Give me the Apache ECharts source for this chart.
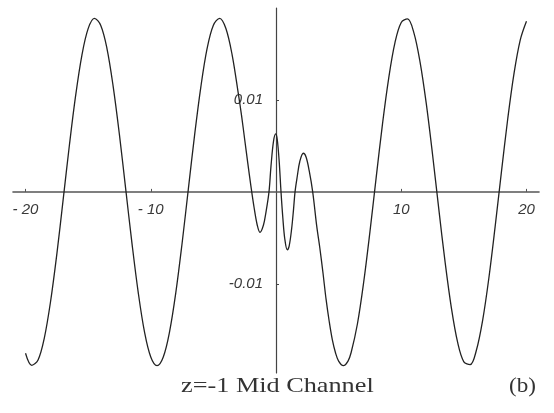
<!DOCTYPE html>
<html>
<head>
<meta charset="utf-8">
<script src="https://cdn.jsdelivr.net/npm/echarts@6/dist/echarts.min.js"></script>
<style>
  html, body { margin: 0; padding: 0; background: #ffffff; }
  #chart { width: 554px; height: 413px; }
</style>
</head>
<body>
<div id="chart"></div>
<script>
// Sample positions along the channel
var xValues = [
  -20, -19.5, -19, -18.5, -18, -17.5, -17, -16.5, -16, -15.5, -15, -14.5, -14, -13.5,
  -13, -12.5, -12, -11.5, -11, -10.5, -10, -9.5, -9, -8.5, -8, -7.5, -7, -6.5, -6,
  -5.5, -5, -4.5, -4, -3.5, -3, -2.75, -2.5, -2.25, -2, -1.75, -1.5, -1.28, -1.0,
  -0.8, -0.56, -0.4, -0.2, -0.02, 0.1, 0.25, 0.4, 0.55, 0.7, 0.9, 1.05, 1.25, 1.4,
  1.52, 1.7, 1.9, 2.18, 2.4, 2.65, 2.93, 3.25, 3.5, 3.75, 4.0, 4.25, 4.5, 4.75, 5.0,
  5.38, 5.75, 6.0, 6.5, 7.0, 7.5, 8.0, 8.5, 9.0, 9.5, 10.0, 10.5, 11.0, 11.5, 12.0,
  12.5, 13.0, 13.5, 14.0, 14.5, 15.0, 15.5, 16.0, 16.5, 17.0, 17.5, 18.0, 18.5, 19.0,
  19.5, 20.0
];

// Profile values at z = -1, mid channel
var yValues = [
  -0.01755, -0.01886, -0.01829, -0.0159, -0.01192, -0.00677, -0.0009, 0.00504, 0.01046,
  0.01486, 0.01776, 0.01888, 0.01813, 0.01562, 0.01145, 0.0062, 0.0003, -0.0056,
  -0.01095, -0.01523, -0.01796, -0.0189, -0.01796, -0.01522, -0.01096, -0.00561, 0.0003,
  0.00618, 0.01143, 0.0156, 0.01813, 0.01888, 0.01777, 0.01488, 0.0106, 0.0083, 0.0057,
  0.0031, 0.0006, -0.0017, -0.0036, -0.0044, -0.0036, -0.0022, 0, 0.0028, 0.0055, 0.0063,
  0.0057, 0.0034, 0, -0.0029, -0.0051, -0.0063, -0.0059, -0.004, -0.0019, 0, 0.0017,
  0.0033, 0.0042, 0.0038, 0.0023, 0, -0.0037, -0.0061, -0.0088, -0.0117, -0.0141,
  -0.0161, -0.0175, -0.0184, -0.0189, -0.0184, -0.01747, -0.01437, -0.00983, -0.00435,
  0.00158, 0.00735, 0.01238, 0.01624, 0.01843, 0.01882, 0.01735, 0.01414, 0.00959,
  0.00407, -0.00188, -0.00762, -0.01259, -0.01635, -0.01849, -0.01879, -0.01723,
  -0.01397, -0.00934, -0.00376, 0.00217, 0.0079, 0.01283, 0.01651, 0.01856
];

var xTicks = [-20, -10, 10, 20];
var xTickLabels = ['- 20', '- 10', '10', '20'];
var yTicks = [-0.01, 0.01];
var yTickLabels = ['-0.01', '0.01'];

var captionText = 'z=-1 Mid Channel';
var panelText = '(b)';

var points = xValues.map(function (x, i) { return [x, yValues[i]]; });

// Plot area and axis ranges
var gridLeft = 13, gridRight = 15, gridTop = 8, gridHeight = 365;
var chartWidth = 554;
var xMin = -21, xMax = 21;
var yMin = -0.0197, yMax = 0.02;
var gridWidth = chartWidth - gridLeft - gridRight;

// Both axes cross at the origin: shift them from the grid edges to zero
var xAxisOffset = -gridHeight * (0 - yMin) / (yMax - yMin);
var yAxisOffset = -gridWidth * (0 - xMin) / (xMax - xMin);

function labelFor(values, labels) {
  return function (v) {
    for (var i = 0; i < values.length; i++) {
      if (Math.abs(values[i] - v) < 1e-9) return labels[i];
    }
    return '';
  };
}

var tickFont = {
  fontFamily: 'Liberation Sans',
  fontStyle: 'italic',
  fontSize: 15,
  color: '#3a3a3a'
};

var chart = echarts.init(document.getElementById('chart'), null, { renderer: 'canvas' });
chart.setOption({
  animation: false,
  backgroundColor: '#ffffff',
  grid: { left: gridLeft, right: gridRight, top: gridTop, height: gridHeight,
          containLabel: false, outerBoundsMode: 'none' },
  xAxis: {
    type: 'value',
    min: xMin,
    max: xMax,
    position: 'bottom',
    offset: xAxisOffset,
    splitLine: { show: false },
    axisLine: { show: true, onZero: false, lineStyle: { color: '#555555', width: 1.6 } },
    axisTick: { show: true, inside: true, length: 3, customValues: xTicks,
                lineStyle: { color: '#555555', width: 1 } },
    axisLabel: Object.assign({ show: true, margin: 10, customValues: xTicks,
                formatter: labelFor(xTicks, xTickLabels) }, tickFont)
  },
  yAxis: {
    type: 'value',
    min: yMin,
    max: yMax,
    position: 'left',
    offset: yAxisOffset,
    splitLine: { show: false },
    axisLine: { show: true, onZero: false, lineStyle: { color: '#444444', width: 1.2 } },
    axisTick: { show: true, inside: true, length: 3, customValues: yTicks,
                lineStyle: { color: '#444444', width: 1 } },
    axisLabel: Object.assign({ show: true, margin: 13, customValues: yTicks,
                formatter: labelFor(yTicks, yTickLabels) }, tickFont)
  },
  series: [{
    type: 'line',
    data: points,
    smooth: 0.35,
    showSymbol: false,
    lineStyle: { color: '#222222', width: 1.3 },
    z: 3
  }],
  graphic: [
    {
      type: 'text',
      left: 181,
      top: 376,
      scaleX: 1.25,
      style: {
        text: captionText,
        font: '21px "Liberation Serif"',
        fill: '#333333'
      }
    },
    {
      type: 'text',
      left: 509,
      top: 376,
      scaleX: 1.1,
      style: {
        text: panelText,
        font: '21px "Liberation Serif"',
        fill: '#333333'
      }
    }
  ]
});
</script>
</body>
</html>
